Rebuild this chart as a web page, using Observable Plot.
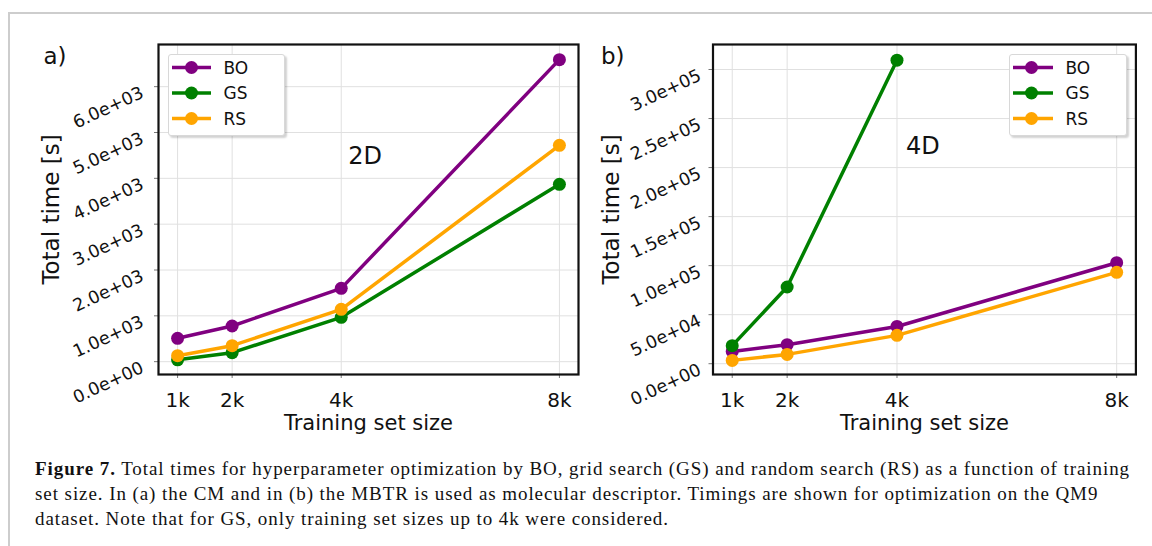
<!DOCTYPE html>
<html>
<head>
<meta charset="utf-8">
<script src="https://cdn.jsdelivr.net/npm/d3@7"></script>
<script src="https://cdn.jsdelivr.net/npm/@observablehq/plot@0.6"></script>
<style>
  html, body { margin: 0; padding: 0; background: #fff; }
  body { width: 1152px; height: 546px; overflow: hidden; position: relative; font-family: "DejaVu Sans", sans-serif; }
  #border { position: absolute; left: 8px; top: 12px; width: 1150px; height: 540px;
            border-left: 2px solid #cdcdcd; border-top: 2px solid #cdcdcd; }
  #pa { position: absolute; left: 0; top: 0; width: 600px; }
  #pb { position: absolute; left: 590px; top: 0; width: 562px; }
  .legend { position: absolute; background: #fff; border: 1px solid #d8d8d8; border-radius: 3px;
            box-shadow: 2px 2px 2px rgba(0,0,0,0.18); z-index: 5; box-sizing: border-box; }
  .legend svg { display: block; }
  #caption { position: absolute; left: 35px; top: 456px; font-family: "Liberation Serif", serif;
             font-size: 19px; line-height: 25px; color: #111; }
  #caption div { white-space: nowrap; }
</style>
</head>
<body>
<div id="border"></div>
<div id="pa"></div>
<div id="pb"></div>
<div id="caption">
  <div><span id="l1"><b>Figure 7.</b> Total times for hyperparameter optimization by BO, grid search (GS) and random search (RS) as a function of training</span></div>
  <div>set size. In (a) the CM and in (b) the MBTR is used as molecular descriptor. Timings are shown for optimization on the QM9</div>
  <div>dataset. Note that for GS, only training set sizes up to 4k were considered.</div>
</div>
<script>
// ---------- data ----------
const sizes = [1, 2, 4, 8];               // training set size (k)
const sizeLabels = ["1k", "2k", "4k", "8k"];
const methods = ["BO", "GS", "RS"];
const methodColors = ["purple", "green", "orange"];

// panel a (2D)
const boA = [510, 778, 1600, 6590];
const gsA = [40, 196, 967, 3870];
const rsA = [130, 349, 1141, 4720];
const yTicksA = [0, 1000, 2000, 3000, 4000, 5000, 6000];
const yTickLabelsA = ["0.0e+00", "1.0e+03", "2.0e+03", "3.0e+03", "4.0e+03", "5.0e+03", "6.0e+03"];

// panel b (4D)
const boB = [12550, 19400, 38000, 103000];
const gsB = [18400, 78200, 309500];
const rsB = [3400, 9500, 28900, 93200];
const yTicksB = [0, 50000, 100000, 150000, 200000, 250000, 300000];
const yTickLabelsB = ["0.0e+00", "5.0e+04", "1.0e+05", "1.5e+05", "2.0e+05", "2.5e+05", "3.0e+05"];

const xLabel = "Training set size";
const yLabel = "Total time [s]";

// ---------- drawing ----------
function seriesMarks(seriesValues) {
  return seriesValues.flatMap((vals, k) => {
    const pts = vals.map((v, i) => ({x: sizes[i], y: v}));
    return [
      Plot.line(pts, {x: "x", y: "y", stroke: methodColors[k], strokeWidth: 3.5}),
      Plot.dot(pts, {x: "x", y: "y", fill: methodColors[k], r: 6.5, stroke: "none"})
    ];
  });
}

function panel(o) {
  return Plot.plot({
    width: o.width, height: 440,
    marginLeft: o.marginLeft, marginRight: o.marginRight, marginTop: 44, marginBottom: 66,
    x: {domain: [0.65, 8.35], axis: null},
    y: {domain: o.yDomain, axis: null},
    style: {fontFamily: "DejaVu Sans", background: "transparent", color: "#111", overflow: "visible"},
    marks: [
      Plot.gridX(sizes, {stroke: "#e0e0e0", strokeOpacity: 1, strokeWidth: 1}),
      Plot.gridY(o.yTicks, {stroke: "#e0e0e0", strokeOpacity: 1, strokeWidth: 1}),
      Plot.axisY(o.yTicks, {tickSize: 4, tickFormat: () => "", label: null, stroke: "#777"}),
      Plot.axisX(sizes, {tickSize: 4, tickFormat: () => "", label: null, stroke: "#777"}),
      Plot.text(o.yTicks, {frameAnchor: "left", y: d => d, text: (d, i) => o.yTickLabels[i],
        textAnchor: "end", lineAnchor: "middle", rotate: -25, dx: o.tickDx, dy: 5, fontSize: 17.5, fill: "#111"}),
      Plot.text(sizes, {x: d => d, frameAnchor: "bottom", text: (d, i) => sizeLabels[i],
        textAnchor: "middle", lineAnchor: "top", dy: 18, fontSize: 20, fill: "#111"}),
      Plot.text([xLabel], {frameAnchor: "bottom", text: d => d, textAnchor: "middle", lineAnchor: "middle", dy: 49, fontSize: 21, fill: "#111"}),
      Plot.text([yLabel], {frameAnchor: "left", text: d => d, rotate: -90, textAnchor: "middle", lineAnchor: "middle", dx: o.yLabelDx, fontSize: 23, fill: "#111"}),
      Plot.text([o.tag], {frameAnchor: "top-left", text: d => d, textAnchor: "start", lineAnchor: "middle", dx: o.tagDx, dy: 12, fontSize: 23, fill: "#111"}),
      Plot.text([o.dim], {x: o.dimX, y: o.dimY, text: d => d, textAnchor: "middle", lineAnchor: "middle", fontSize: 24, fill: "#111"}),
      ...seriesMarks(o.series),
      Plot.frame({stroke: "#111", strokeWidth: 2.2})
    ]
  });
}

document.getElementById("pa").append(panel({
  width: 600, marginLeft: 158, marginRight: 22,
  yDomain: [-280, 6920], yTicks: yTicksA, yTickLabels: yTickLabelsA,
  series: [boA, gsA, rsA], tag: "a)", tagDx: -115, tickDx: -16, yLabelDx: -107,
  dim: "2D", dimX: 4.44, dimY: 4480
}));

document.getElementById("pb").append(panel({
  width: 562, marginLeft: 122.5, marginRight: 16.6,
  yDomain: [-11000, 325500], yTicks: yTicksB, yTickLabels: yTickLabelsB,
  series: [boB, gsB, rsB], tag: "b)", tagDx: -112, tickDx: -13, yLabelDx: -101.5,
  dim: "4D", dimX: 4.47, dimY: 222000
}));

// ---------- legends ----------
function legend(left, top, width, height, lineX0, lineX1, markX, textX) {
  const div = d3.select("body").append("div").attr("class", "legend")
    .style("left", left + "px").style("top", top + "px")
    .style("width", width + "px").style("height", height + "px");
  const svg = div.append("svg").attr("width", width - 2).attr("height", height - 2);
  const rowY = [12.5, 38, 63.5];
  methods.forEach((m, i) => {
    svg.append("line").attr("x1", lineX0).attr("x2", lineX1).attr("y1", rowY[i]).attr("y2", rowY[i])
      .attr("stroke", methodColors[i]).attr("stroke-width", 3.5);
    svg.append("circle").attr("cx", markX).attr("cy", rowY[i]).attr("r", 6.5).attr("fill", methodColors[i]);
    svg.append("text").attr("x", textX).attr("y", rowY[i]).attr("dy", "0.36em")
      .attr("font-family", "DejaVu Sans").attr("font-size", 17).attr("fill", "#111").text(m);
  });
}
legend(168, 54, 117, 82, 3, 42, 22.5, 54.5);
legend(1008.5, 54, 118, 82, 3, 43, 21.5, 55.5);

// ---------- caption width fit ----------
const l1 = document.getElementById("l1");
const w = l1.getBoundingClientRect().width;
const n = l1.textContent.length;
document.getElementById("caption").style.letterSpacing = ((1095 - w) / n) + "px";
</script>
</body>
</html>
